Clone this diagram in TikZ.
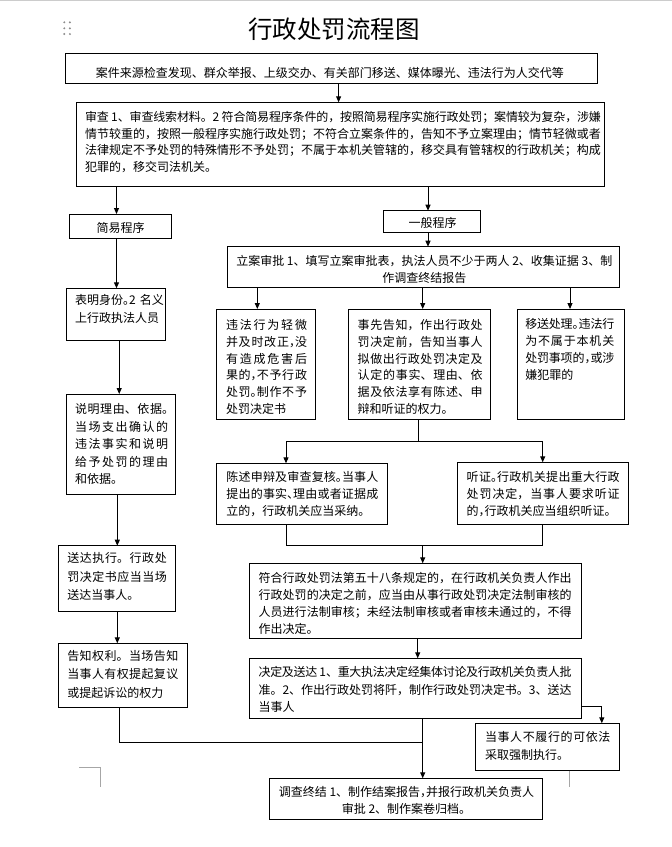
\documentclass[tikz,border=0pt]{standalone}
\usepackage{fontspec}
\setmainfont{Noto Sans CJK SC}
\newfontfamily\cjkhalf[RawFeature=+halt]{Noto Sans CJK SC}
\usetikzlibrary{arrows.meta}
\XeTeXlinebreaklocale "zh"
\XeTeXlinebreakskip=0pt plus 3pt minus 0.5pt
\tolerance=10000
\hbadness=10000
\newcommand\hpu[1]{{\cjkhalf #1}}
\begin{document}
\begin{tikzpicture}[x=1pt,y=-1pt,
  box/.style={draw=black, line width=1pt, fill=white, inner sep=0pt, outer sep=0pt},
  txt/.style={inner sep=0pt, outer sep=0pt, align=left, anchor=base west, font=\fontsize{12}{#1}\selectfont},
  txt/.default=17,
  jtxt/.style={inner sep=0pt, outer sep=0pt, align=justify, anchor=base west, font=\fontsize{12}{#1}\selectfont},
  jtxt/.default=17,
  ctxt/.style={inner sep=0pt, outer sep=0pt, align=flush center, anchor=base, font=\fontsize{12}{#1}\selectfont},
  ctxt/.default=17,
  arr/.style={line width=1pt, -{Triangle[length=6pt,width=5pt]}},
  ln/.style={line width=1pt},
  pagemark/.style={draw=black!35, line width=0.8pt}]
\useasboundingbox (0,0) rectangle (672,847);
\fill[white] (0,0) rectangle (672,847);
\draw[black!20, line width=0.8pt] (0,0.6) -- (672,0.6);
% handle dots
\foreach \dx in {64.3,69.9} \foreach \dy in {22.3,28.3,34}
  \fill[black!45] (\dx,\dy) circle[radius=1.1pt];
% title
\node[inner sep=0pt, font=\fontsize{24.5}{30}\selectfont] (title) at (334,29.2) {行政处罚流程图};
% boxes
\node[box, minimum width=531.3, minimum height=30] (b1) at (331.35,68.3) {};
\node[box, minimum width=527.9, minimum height=83.7] (b2) at (340.65,144.15) {};
\node[box, minimum width=102.4, minimum height=24.3] (b3) at (120.5,226.15) {};
\node[box, minimum width=96.6, minimum height=21.6] (b4) at (432,221.5) {};
\node[box, minimum width=392.4, minimum height=40.6] (b5) at (423.6,267) {};
\node[box, minimum width=99.5, minimum height=51.7] (b6) at (115.75,314.15) {};
\node[box, minimum width=99, minimum height=110.3] (b7) at (266.2,364.15) {};
\node[box, minimum width=141.7, minimum height=110.3] (b8) at (419.15,364.15) {};
\node[box, minimum width=106.6, minimum height=110.3] (b9) at (571,364.15) {};
\node[box, minimum width=109.7, minimum height=100.3] (b10) at (120.85,444.15) {};
\node[box, minimum width=117.4, minimum height=65.3] (b11) at (117,578.35) {};
\node[box, minimum width=129, minimum height=64] (b12) at (122.8,675.3) {};
\node[box, minimum width=170.7, minimum height=60.7] (b13) at (302.15,493.65) {};
\node[box, minimum width=170.6, minimum height=62] (b14) at (543,493.3) {};
\node[box, minimum width=332.1, minimum height=75] (b15) at (415.55,600.8) {};
\node[box, minimum width=332.1, minimum height=60] (b16) at (415.55,688.3) {};
\node[box, minimum width=144.3, minimum height=46.7] (b17) at (547.65,746.65) {};
\node[box, minimum width=272.9, minimum height=41] (b18) at (406.05,798.8) {};
% texts
\node[ctxt, text width=480] (t1) at (329.8,77.3) {案件来源检查发现、群众举报、上级交办、有关部门移送、媒体曝光、违法行为人交代等};
\node[jtxt=16.7, text width=516] (t2) at (85,121.3) {审查 1、审查线索材料。2 符合简易程序条件的，按照简易程序实施行政处罚；案情较为复杂，涉嫌\linebreak
情节较重的，按照一般程序实施行政处罚；不符合立案条件的，告知不予立案理由；情节轻微或者\linebreak
法律规定不予处罚的特殊情形不予处罚；不属于本机关管辖的，移交具有管辖权的行政机关；构成\linebreak
犯罪的，移交司法机关。};
\node[ctxt] (t3) at (120.5,232.4) {简易程序};
\node[ctxt] (t4) at (432.5,227.3) {一般程序};
\node[ctxt=16.7, text width=390] (t5) at (424.3,265.6) {立案审批 1、填写立案审批表，执法人员不少于两人 2、收集证据 3、制\\作调查终结报告};
\node[txt=17.7, text width=90] (t6) at (75.2,304.6) {\mbox{表明身份\hpu{。}2 名义}\\上行政执法人员};
\node[jtxt=16.7, text width=81] (t7) at (226,329.6) {违法行为轻微\linebreak
并及时改正\hpu{，}没\linebreak
有造成危害后\linebreak
果的\hpu{，}不予行政\linebreak
处罚\hpu{。}制作不予\linebreak
处罚决定书};
\node[jtxt=16.7, text width=125] (t8) at (357.7,329.6) {事先告知，作出行政处\linebreak
罚决定前，告知当事人\linebreak
拟做出行政处罚决定及\linebreak
认定的事实、理由、依\linebreak
据及依法享有陈述、申\linebreak
辩和听证的权力。};
\node[jtxt=17, text width=89] (t9) at (525.3,328) {移送处理\hpu{。}违法行\linebreak
为不属于本机关\linebreak
处罚事项的\hpu{，}或涉\linebreak
嫌犯罪的};
\node[jtxt=17.5, text width=93] (t10) at (75,413.6) {说明理由、依据\hpu{。}\linebreak
当场支出确认的\linebreak
违法事实和说明\linebreak
给予处罚的理由\linebreak
和依据。};
\node[jtxt=18.35, text width=99.5] (t11) at (67.3,562.9) {送达执行。行政处\linebreak
罚决定书应当当场\linebreak
送达当事人。};
\node[jtxt=18.35, text width=111] (t12) at (67.3,660.6) {告知权利。当场告知\linebreak
当事人有权提起复议\linebreak
或提起诉讼的权力};
\node[jtxt=17.2, text width=152] (t13) at (226.4,481.3) {陈述申辩及审查复核\hpu{。}当事人\linebreak
提出的事实\hpu{、}理由或者证据成\linebreak
立的，行政机关应当采纳。};
\node[jtxt=17.2, text width=153] (t14) at (466.7,481.3) {听证\hpu{。}行政机关提出重大行政\linebreak
处罚决定，当事人要求听证\linebreak
的\hpu{，}行政机关应当组织听证。};
\node[jtxt=17.2, text width=313] (t15) at (258.6,582.3) {符合行政处罚法第五十八条规定的，在行政机关负责人作出\linebreak
行政处罚的决定之前，应当由从事行政处罚决定法制审核的\linebreak
人员进行法制审核；未经法制审核或者审核未通过的，不得\linebreak
作出决定。};
\node[jtxt=17.2, text width=313] (t16) at (258.6,676.9) {决定及送达 1、重大执法决定经集体讨论及行政机关负责人批\linebreak
准。2、作出行政处罚将阡，制作行政处罚决定书。3、送达\linebreak
当事人};
\node[jtxt=17.7, text width=125.5] (t17) at (485,741.9) {当事人不履行的可依法\linebreak
采取强制执行。};
\node[ctxt=16.7, text width=270] (t18) at (406.5,796.3) {调查终结 1、制作结案报告\hpu{，}并报行政机关负责人\\审批 2、制作案卷归档。};
% connector x positions
\coordinate (x1) at (338.6,0);
\coordinate (x2) at (116.5,0);
\coordinate (x3) at (428,0);
\coordinate (x6) at (257.3,0);
\coordinate (x7) at (422.7,0);
\coordinate (x8) at (570,0);
\coordinate (x9) at (119.2,0);
\coordinate (x10) at (117.3,0);
\coordinate (xa) at (286,0);
\coordinate (xb) at (542.7,0);
\coordinate (xc) at (417.7,0);
\coordinate (k1) at (418,441.7);
\coordinate (k2) at (422.7,545);
\coordinate (r1) at (601.8,706.7);
\coordinate (j1) at (422.7,742);
\coordinate (xl) at (119.3,0);
% connectors
\draw[arr] (x1 |- b1.south) -- (x1 |- b2.north);
\draw[arr] (x2 |- b2.south) -- (x2 |- b3.north);
\draw[arr] (x3 |- b2.south) -- (x3 |- b4.north);
\draw[arr] (x3 |- b4.south) -- (x3 |- b5.north);
\draw[arr] (x2 |- b3.south) -- (x2 |- b6.north);
\draw[arr] (x6 |- b5.south) -- (x6 |- b7.north);
\draw[arr] (x7 |- b5.south) -- (x7 |- b8.north);
\draw[arr] (x8 |- b5.south) -- (x8 |- b9.north);
\draw[arr] (x9 |- b6.south) -- (x9 |- b10.north);
\draw[arr] (x10 |- b10.south) -- (x10 |- b11.north);
\draw[arr] (x10 |- b11.south) -- (x10 |- b12.north);
\draw[ln] (k1 |- b8.south) -- (k1);
\draw[arr] (k1) -| (xa |- b13.north);
\draw[arr] (k1) -| (xb |- b14.north);
\draw[ln] (xa |- b13.south) |- (k2);
\draw[ln] (xb |- b14.south) |- (k2);
\draw[arr] (k2) -- (k2 |- b15.north);
\draw[arr] (xc |- b15.south) -- (xc |- b16.north);
\draw[arr] (b16.east |- r1) -| (r1 |- b17.north);
\draw[ln] (xl |- b12.south) |- (j1);
\draw[arr] (j1 |- b16.south) -- (j1 |- b18.north);
% page corner marks
\draw[pagemark] (79,767.3) -- (100,767.3) -- (100,786.7);
\draw[pagemark] (569.3,770.5) -- (569.3,786.7);
\end{tikzpicture}
\end{document}
